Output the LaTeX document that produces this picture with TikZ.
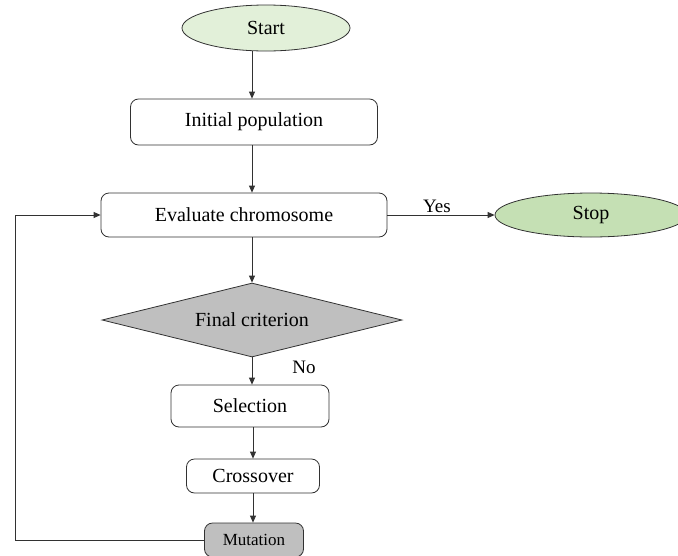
\documentclass[tikz,border=0pt]{standalone}
\usepackage{fontspec}
\setmainfont{Liberation Serif}
\usetikzlibrary{positioning, arrows.meta, calc, shapes.geometric}
\definecolor{startgreen}{RGB}{226,240,217}
\definecolor{stopgreen}{RGB}{197,224,180}
\definecolor{boxgray}{RGB}{191,191,191}
\definecolor{linegray}{RGB}{50,50,50}

\begin{document}
\begin{tikzpicture}[
    x=1pt, y=-1pt,
    terminal/.style={
        ellipse, draw=linegray, line width=0.8pt, inner sep=0pt,
        font=\fontsize{20}{24}\selectfont
    },
    procbox/.style={
        rectangle, rounded corners=8pt, draw=linegray, line width=0.8pt,
        fill=white, inner sep=0pt, font=\fontsize{20}{24}\selectfont
    },
    decision/.style={
        diamond, draw=linegray, line width=0.8pt, fill=boxgray,
        aspect=4, inner sep=0pt,
        minimum width=300pt, minimum height=74pt,
        font=\fontsize{20}{24}\selectfont
    },
    flow/.style={
        -{Triangle[length=7pt, width=6pt]},
        line width=0.8pt, color=linegray
    },
    edgelbl/.style={font=\fontsize{19}{22}\selectfont}
]
\useasboundingbox (0,0) rectangle (678,555);

% --- nodes ---
\node[terminal, fill=startgreen, minimum width=168pt, minimum height=46pt]
    (start) at (266,28) {Start};
\node[procbox, minimum width=247pt, minimum height=46pt]
    (init) at (254,122) {Initial population};
\node[procbox, minimum width=286pt, minimum height=44pt]
    (eval) at (244,215) {Evaluate chromosome};
\node[terminal, fill=stopgreen, minimum width=192pt, minimum height=44pt]
    (stop) at (591,215) {Stop};
\node[decision] (crit) at (252,320) {Final criterion};
\node[procbox, minimum width=158pt, minimum height=42pt]
    (sel) at (250,406) {Selection};
\node[procbox, minimum width=133pt, minimum height=34pt]
    (cross) at (253,476) {Crossover};
\node[procbox, fill=boxgray, minimum width=99pt, minimum height=34pt,
      font=\fontsize{17}{20}\selectfont]
    (mut) at (254,540) {Mutation};
\coordinate (back) at (15,0);

% --- main chain ---
\draw[flow] (start.south -| crit.north) -- (init.north -| crit.north);
\draw[flow] (init.south -| crit.north) -- (eval.north -| crit.north);
\draw[flow] (eval.south -| crit.north) -- (crit.north);
\draw[flow] (crit.south) -- (sel.north -| crit.south);
\draw[flow] (sel.south -| cross.north) -- (cross.north);
\draw[flow] (cross.south) -- (mut.north -| cross.south);

% --- exit and loop back ---
\draw[flow] (eval.east) -- (stop.west);
\node[edgelbl] (yes) at (437,206) {Yes};
\node[edgelbl] (no) at (304,367) {No};
\draw[flow] (mut.west) -- (mut.west -| back) |- (eval.west);

\end{tikzpicture}
\end{document}
